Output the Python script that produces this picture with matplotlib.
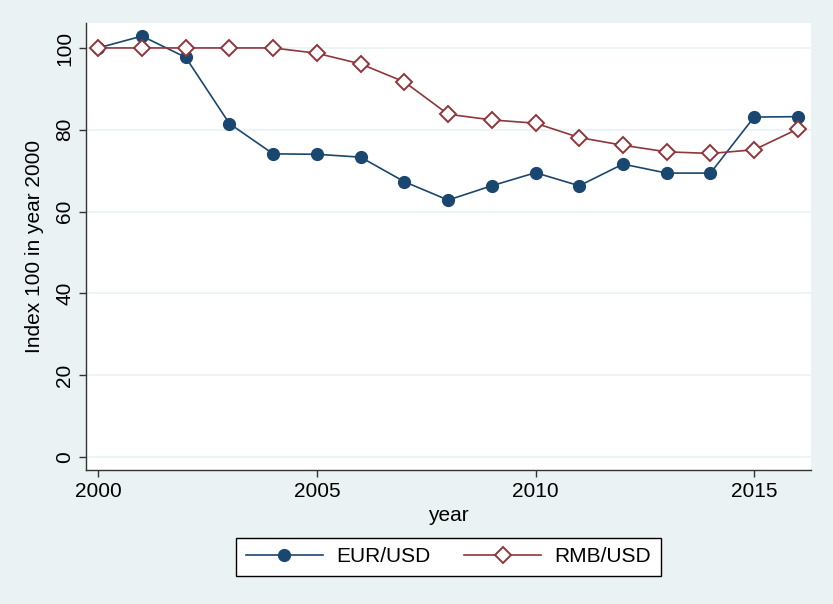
import numpy as np
from matplotlib import pyplot as plt

plt.rcParams['font.family'] = ['Liberation Sans', 'DejaVu Sans']

years = list(range(2000, 2017))
eur_usd = [100, 102.9, 97.7, 81.5, 74.1, 74.0, 73.3, 67.3, 62.8, 66.3, 69.5, 66.3, 71.6, 69.4, 69.4, 83.1, 83.2]
rmb_usd = [100, 100, 100, 100, 100, 98.7, 96.1, 91.7, 83.8, 82.4, 81.6, 78.1, 76.2, 74.6, 74.2, 75.1, 80.2]
x_ticks = [2000, 2005, 2010, 2015]
y_ticks = [0, 20, 40, 60, 80, 100]

bg = '#eaf2f3'
navy = '#1a476f'
maroon = '#90353b'

W, H = 833, 604
fig = plt.figure(figsize=(W / 100, H / 100), dpi=100, facecolor=bg)
ax = fig.add_axes([86 / W, (H - 470) / H, (811 - 86) / W, (470 - 23) / H])
ax.set_facecolor('white')

ax.plot(years, eur_usd, color=navy, lw=1.2, marker='o', ms=8.5,
        mfc=navy, mec=navy, label='EUR/USD', zorder=3)
ax.plot(years, rmb_usd, color=maroon, lw=1.2, marker='D', ms=8,
        mfc='white', mec=maroon, mew=1.4, label='RMB/USD', zorder=3)

ax.set_xlim(1999.72, 2016.3)
ax.set_ylim(-3.2, 106.1)
ax.set_xticks(x_ticks)
ax.set_yticks(y_ticks)
ax.set_yticklabels([str(v) for v in y_ticks], rotation=90, va='center')
ax.tick_params(labelsize=15, length=5, width=1, color='#333333', direction='out')
ax.grid(axis='y', color=bg, lw=1.2)
ax.set_axisbelow(True)

for side in ['top', 'right']:
    ax.spines[side].set_visible(False)
for side in ['left', 'bottom']:
    ax.spines[side].set_color('#333333')
    ax.spines[side].set_linewidth(1)

ax.set_xlabel('year', fontsize=15, labelpad=4)
ax.set_ylabel('Index 100 in year 2000', fontsize=15, labelpad=8)

leg = fig.legend(loc='center', bbox_to_anchor=(448.5 / W, 1 - 557 / H), ncol=2,
                 fontsize=15, frameon=True, fancybox=False, edgecolor='black',
                 framealpha=1, handlelength=3.7, columnspacing=1.6,
                 borderpad=0.45, handletextpad=0.65)
leg.get_frame().set_linewidth(1)

fig.savefig('out.png', dpi=100, facecolor=bg)
